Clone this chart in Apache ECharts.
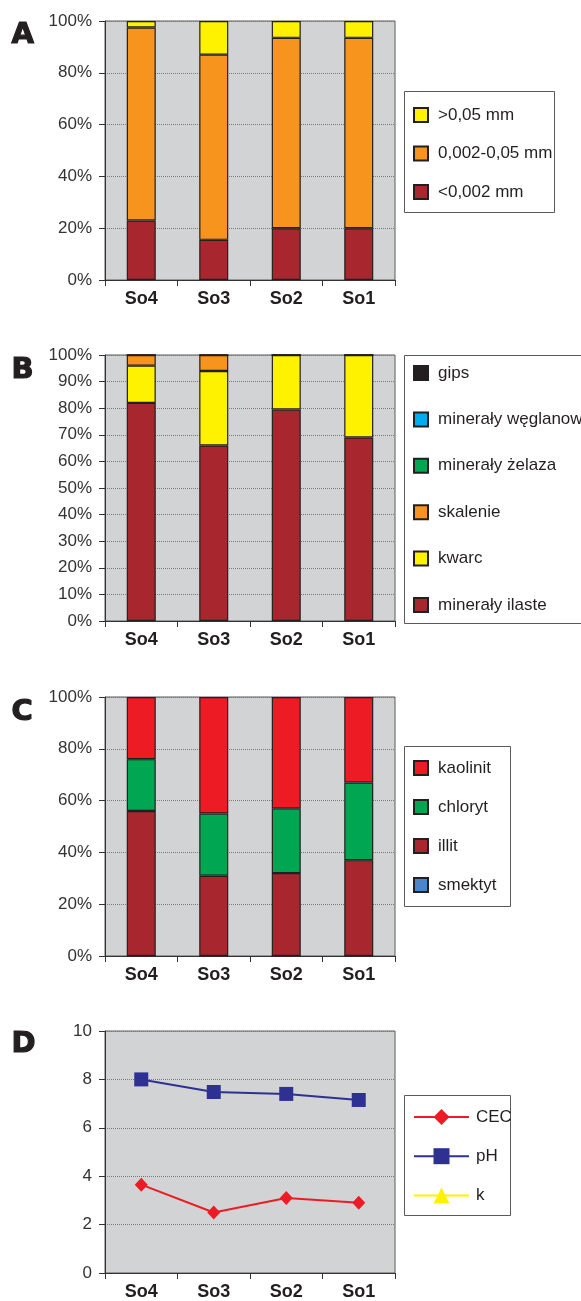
<!DOCTYPE html>
<html>
<head>
<meta charset="utf-8">
<script src="https://cdn.jsdelivr.net/npm/echarts@6/dist/echarts.min.js"></script>
<style>
html,body{margin:0;padding:0;background:#fff;}
#chart{width:581px;height:1301px;}
</style>
</head>
<body>
<div id="chart"></div>
<script>
// ---- data ----
const categories = ['So4', 'So3', 'So2', 'So1'];

// Panel A – grain size fractions (%)
const fractionFine = [23, 15.5, 20, 20];        // <0,002 mm
const fractionMedium = [74.5, 71.5, 73.5, 73.5]; // 0,002-0,05 mm
const fractionCoarse = [2.5, 13, 6.5, 6.5];     // >0,05 mm

// Panel B – mineral composition (%)
const mineralyIlaste = [82, 66, 79.5, 69];
const kwarc = [14, 28, 20.5, 31];
const skalenie = [4, 6, 0, 0];
const mineralyZelaza = [0, 0, 0, 0];
const mineralyWeglanowe = [0, 0, 0, 0];
const gips = [0, 0, 0, 0];

// Panel C – clay minerals (%)
const smektyt = [0, 0, 0, 0];
const illit = [56, 31, 32, 37];
const chloryt = [20, 24, 25, 30];
const kaolinit = [24, 45, 43, 33];

// Panel D
const cec = [3.65, 2.5, 3.1, 2.9];
const ph = [8.0, 7.48, 7.4, 7.15];
const kValues = [null, null, null, null];

const panelLetters = ['A', 'B', 'C', 'D'];

// ---- styles ----
const FONT = "'Liberation Sans', Arial, sans-serif";
const BG = '#d1d3d4';
const C = {
  yellow: '#fff200', orange: '#f7941d', darkred: '#a8272f', green: '#00a651',
  cyan: '#00aeef', black: '#231f20', red: '#ed1c24', blue: '#4a86c8', navy: '#2e3192'
};

const grids = [
  {left: 105, top: 21, width: 290, height: 259},
  {left: 105, top: 355, width: 290, height: 266},
  {left: 105, top: 697, width: 290, height: 259},
  {left: 105, top: 1031, width: 290, height: 247}
].map(g => Object.assign(g, {show: true, backgroundColor: BG, borderColor: '#5a5a5a', borderWidth: 1}));

function xAxis(i) {
  return {
    type: 'category', gridIndex: i, data: categories,
    axisLine: {lineStyle: {color: '#333', width: 1}},
    axisTick: {show: true, length: 6, lineStyle: {color: '#333'}},
    axisLabel: {fontFamily: FONT, fontSize: 18, fontWeight: 'bold', color: '#231f20', margin: 10}
  };
}
function yAxis(i, max, interval, pct) {
  return {
    type: 'value', gridIndex: i, min: 0, max: max, interval: interval,
    axisLine: {show: true, lineStyle: {color: '#333', width: 1}},
    axisTick: {show: true, length: 6, lineStyle: {color: '#333'}},
    axisLabel: {fontFamily: FONT, fontSize: 17, color: '#333', margin: 13,
      formatter: pct ? '{value}%' : '{value}'},
    splitLine: {show: true, lineStyle: {color: '#7a7a7a', type: 'dotted', width: 1}}
  };
}
function bar(name, data, color, i, stack) {
  return {
    name: name, type: 'bar', stack: stack, xAxisIndex: i, yAxisIndex: i,
    data: data, barWidth: 29,
    itemStyle: {color: color, borderColor: '#231f20', borderWidth: 1.2},
    emphasis: {disabled: true}, animation: false
  };
}
function legend(names, top, gap, isLine) {
  return {
    orient: 'vertical', left: 413, top: top, padding: 0,
    itemWidth: isLine ? 55 : 14, itemHeight: isLine ? 20 : 14, itemGap: gap,
    icon: isLine ? undefined : 'rect',
    data: names, selectedMode: false,
    textStyle: {fontFamily: FONT, fontSize: 17, color: '#231f20', lineHeight: 20, padding: [0, 0, 0, isLine ? 2 : 5]}
  };
}

const series = [
  bar('<0,002 mm', fractionFine, C.darkred, 0, 'a'),
  bar('0,002-0,05 mm', fractionMedium, C.orange, 0, 'a'),
  bar('>0,05 mm', fractionCoarse, C.yellow, 0, 'a'),

  bar('minerały ilaste', mineralyIlaste, C.darkred, 1, 'b'),
  bar('kwarc', kwarc, C.yellow, 1, 'b'),
  bar('skalenie', skalenie, C.orange, 1, 'b'),
  bar('minerały żelaza', mineralyZelaza, C.green, 1, 'b'),
  bar('minerały węglanowe', mineralyWeglanowe, C.cyan, 1, 'b'),
  bar('gips', gips, C.black, 1, 'b'),

  bar('smektyt', smektyt, C.blue, 2, 'c'),
  bar('illit', illit, C.darkred, 2, 'c'),
  bar('chloryt', chloryt, C.green, 2, 'c'),
  bar('kaolinit', kaolinit, C.red, 2, 'c'),

  {name: 'CEC', type: 'line', xAxisIndex: 3, yAxisIndex: 3, data: cec,
   symbol: 'diamond', symbolSize: [13, 14], showAllSymbol: true,
   lineStyle: {color: C.red, width: 2}, itemStyle: {color: C.red}, animation: false},
  {name: 'pH', type: 'line', xAxisIndex: 3, yAxisIndex: 3, data: ph,
   symbol: 'rect', symbolSize: 14, showAllSymbol: true,
   lineStyle: {color: C.navy, width: 2}, itemStyle: {color: C.navy}, animation: false},
  {name: 'k', type: 'line', xAxisIndex: 3, yAxisIndex: 3, data: kValues,
   symbol: 'triangle', symbolSize: 14, showAllSymbol: true,
   lineStyle: {color: C.yellow, width: 2}, itemStyle: {color: C.yellow}, animation: false}
];

const boxes = [
  [404, 91, 150, 121],
  [404, 355, 200, 268],
  [404, 746, 106, 160],
  [404, 1095, 106, 120]
];
const letterPos = [[11, 20], [11, 355], [11, 697], [11, 1029]];

const graphic = [];
boxes.forEach(b => graphic.push({type: 'rect', shape: {x: b[0] + 0.5, y: b[1] + 0.5, width: b[2], height: b[3]},
  style: {fill: '#fff', stroke: '#5a5a5a', lineWidth: 1}, z: 0, silent: true}));
panelLetters.forEach((l, i) => graphic.push({type: 'text', left: letterPos[i][0], top: letterPos[i][1],
  style: {text: l, fontFamily: "'DejaVu Sans', sans-serif", fontWeight: 900, fontSize: 29, fill: '#231f20',
    stroke: '#231f20', lineWidth: 1.2}, z: 1, silent: true}));

const chart = echarts.init(document.getElementById('chart'), null, {renderer: 'canvas'});
chart.setOption({
  backgroundColor: '#fff',
  animation: false,
  grid: grids,
  xAxis: [xAxis(0), xAxis(1), xAxis(2), xAxis(3)],
  yAxis: [yAxis(0, 100, 20, true), yAxis(1, 100, 10, true), yAxis(2, 100, 20, true), yAxis(3, 10, 2, false)],
  legend: [
    legend(['>0,05 mm', '0,002-0,05 mm', '<0,002 mm'], 105, 18.5),
    legend(['gips', 'minerały węglanowe', 'minerały żelaza', 'skalenie', 'kwarc', 'minerały ilaste'], 363, 26.4),
    legend(['kaolinit', 'chloryt', 'illit', 'smektyt'], 758, 19),
    legend(['CEC', 'pH', 'k'], 1107, 19.2, true)
  ],
  graphic: graphic,
  series: series
});
</script>
</body>
</html>
